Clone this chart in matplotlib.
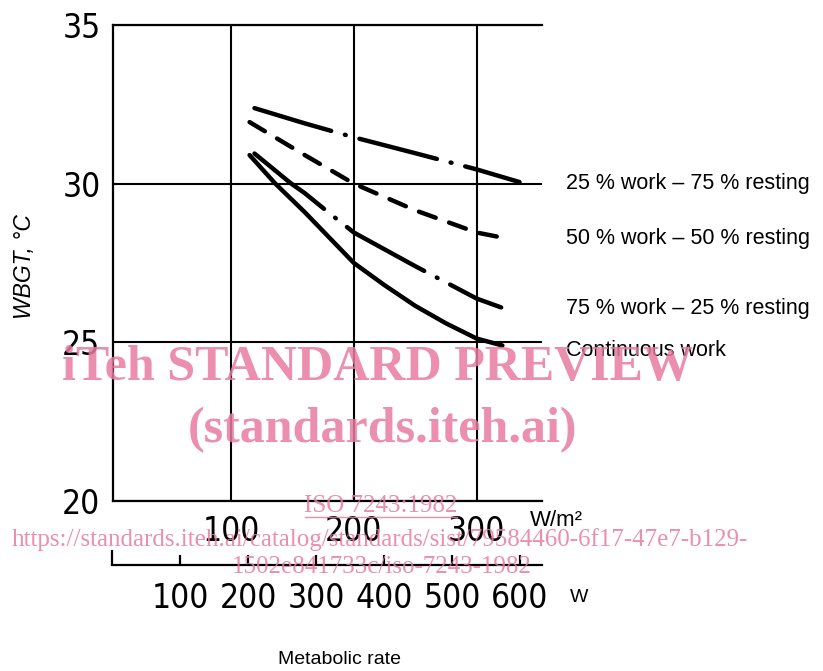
import matplotlib.pyplot as plt
from matplotlib.transforms import blended_transform_factory

# metabolic rate (W/m2) and WBGT limit (degC)
rate_25 = [119, 160, 200, 250, 300, 335]
wbgt_25 = [32.38, 31.9, 31.46, 30.96, 30.45, 30.05]

rate_50 = [115, 160, 200, 250, 300, 321]
wbgt_50 = [31.94, 30.9, 30.0, 29.16, 28.46, 28.3]

rate_75 = [119, 149, 160, 180, 200, 250, 300, 320]
wbgt_75 = [30.95, 30.0, 29.7, 29.07, 28.46, 27.4, 26.38, 26.1]

rate_cont = [115, 136, 160, 180, 200, 225, 250, 275, 300, 321]
wbgt_cont = [30.9, 30.0, 29.1, 28.3, 27.5, 26.8, 26.15, 25.6, 25.12, 24.9]

curve_labels = ["25 % work – 75 % resting", "50 % work – 50 % resting",
                "75 % work – 25 % resting", "Continuous work"]
label_wbgt = [30.0, 28.27, 26.06, 24.75]

wm2_ticks = [100, 200, 300]
wbgt_ticks = [20, 25, 30, 35]
watt_ticks = [100, 200, 300, 400, 500, 600]

W, H = 823, 671
big = dict(family=['DejaVu Sans'], stretch='condensed', size=24)
txt = ['Liberation Sans', 'DejaVu Sans']
serif = ['Liberation Serif', 'DejaVu Serif']

fig = plt.figure(figsize=(W / 100, H / 100), dpi=100)
ax = fig.add_axes([113 / W, 1 - 501 / H, 429 / W, 476 / H])

lw = 3.2
ax.plot(rate_25, wbgt_25, color='black', lw=lw, dash_capstyle='round',
        dashes=(18, 3.2, 0.2, 3.2))
ax.plot(rate_50, wbgt_50, color='black', lw=lw, dash_capstyle='round',
        dashes=(4, 3.2))
ax.plot(rate_75, wbgt_75, color='black', lw=lw, dash_capstyle='round',
        dashes=(20, 3.2, 0.2, 3.2))
ax.plot(rate_cont, wbgt_cont, color='black', lw=lw, solid_capstyle='round',
        solid_joinstyle='round')

ax.set_xlim(3.7, 353.3)
ax.set_ylim(20, 35)
ax.set_xticks(wm2_ticks)
ax.set_yticks(wbgt_ticks)
ax.set_xticklabels([str(v) for v in wm2_ticks], fontdict=big)
ax.set_yticklabels([str(v) for v in wbgt_ticks], fontdict=big)
ax.tick_params(length=0)
ax.tick_params(axis='x', pad=10)
ax.tick_params(axis='y', pad=9)
ax.grid(True, color='black', lw=1.5)
ax.set_axisbelow(True)
ax.spines['right'].set_visible(False)
for s in ['left', 'bottom', 'top']:
    ax.spines[s].set_linewidth(1.6)

# curve names: x in figure pixels, y on the WBGT scale
trans = blended_transform_factory(fig.transFigure, ax.transData)
for lab, y in zip(curve_labels, label_wbgt):
    ax.text(566 / W, y, lab, transform=trans, ha='left', va='center',
            fontsize=15.5, family=txt, clip_on=False)

# second scale in watts for a 1.8 m2 body surface
ax2 = fig.add_axes([112 / W, 1 - 565 / H, 430 / W, 0.0001])
ax2.set_xlim(0, 632.4)
ax2.set_yticks([])
for s in ['left', 'right', 'top']:
    ax2.spines[s].set_visible(False)
ax2.spines['bottom'].set_linewidth(1.6)
ax2.set_xticks(watt_ticks)
ax2.set_xticklabels([str(v) for v in watt_ticks], fontdict=big)
ax2.set_xticks([0], minor=True)
ax2.tick_params(axis='x', which='major', direction='in', length=7, width=1.6, pad=12)
ax2.tick_params(axis='x', which='minor', direction='in', length=11, width=1.6)

fig.text(530 / W, 1 - 521 / H, "W/m²", fontsize=16, family=txt, ha='left', va='center')
fig.text(570 / W, 1 - 598 / H, "W", fontsize=14, family=txt, ha='left', va='center')
fig.text(340 / W, 1 - 659 / H, "Metabolic rate", fontsize=14, family=txt, ha='center', va='center')
fig.text(25 / W, 1 - 267 / H, "WBGT, °C", fontsize=16.5, family=txt, style='italic',
         rotation=90, ha='center', va='center')

# watermark of the source document
pink = '#e97a9f'
fig.text(377 / W, 1 - 368 / H, "iTeh STANDARD PREVIEW", fontsize=36, weight='bold',
         family=serif, color=pink, alpha=0.85, ha='center', va='center')
fig.text(382 / W, 1 - 430 / H, "(standards.iteh.ai)", fontsize=36, weight='bold',
         family=serif, color=pink, alpha=0.85, ha='center', va='center')
fig.text(381 / W, 1 - 506 / H, "ISO 7243:1982", fontsize=18,
         family=serif, color=pink, alpha=0.85, ha='center', va='center')
fig.add_artist(plt.Line2D([305 / W, 457 / W], [1 - 517 / H, 1 - 517 / H], color=pink, lw=1, alpha=0.85))
fig.text(380 / W, 1 - 540 / H, "https://standards.iteh.ai/catalog/standards/sist/79584460-6f17-47e7-b129-",
         fontsize=18, family=serif, color=pink, alpha=0.85, ha='center', va='center')
fig.text(382 / W, 1 - 567 / H, "1502e841733c/iso-7243-1982", fontsize=18,
         family=serif, color=pink, alpha=0.85, ha='center', va='center')

fig.savefig('out.png', dpi=100)
